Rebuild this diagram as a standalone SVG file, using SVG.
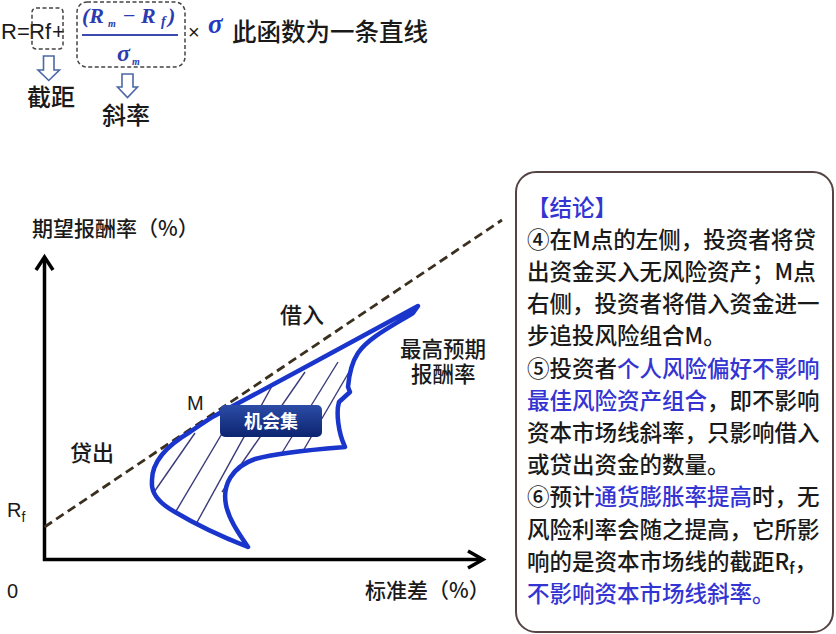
<svg xmlns="http://www.w3.org/2000/svg" width="836" height="634" viewBox="0 0 836 634">
<defs>
<style>
.cjk{font-family:"Noto Sans CJK SC","Noto Sans",sans-serif;font-weight:500;fill:#1a1a1a}
.lat{font-family:"Liberation Sans","Noto Sans",sans-serif;fill:#1a1a1a}
.math{font-family:"Liberation Serif","DejaVu Serif",serif;font-style:italic;font-weight:bold;fill:#2b3bb0}
.blue{fill:#3434d2}
.dbox{fill:none;stroke:#444;stroke-width:1.5;stroke-dasharray:4 2.5}
.harrow{fill:#fff;stroke:#4a67a8;stroke-width:1.6;stroke-linejoin:miter}
.hatch{stroke:#3a3a78;stroke-width:1.4}
.axis{fill:none;stroke:#000;stroke-width:3.5}
.txt{font-family:"Noto Sans CJK SC","Noto Sans",sans-serif;font-weight:500;font-size:22.5px;fill:#1a1a1a}
</style>
<linearGradient id="gbox" x1="0" y1="0" x2="0" y2="1">
<stop offset="0" stop-color="#2c4ca6"/>
<stop offset="1" stop-color="#0c2470"/>
</linearGradient>
<clipPath id="shapeClip">
<path d="M152,482 C151,462 168,445 190,432 C200,425 210,418 218,414 L300,370 L418,306 L413,313 C392,326 368,338 358,353 C352,362 349,375 348,387 L350,392 L339,402 C336,412 338,432 345,447 C320,449 280,452 255,459 C232,467 222,485 226,505 C229,520 240,535 248,547 C225,538 195,524 175,512 C157,502 151,492 152,482 Z"/>
</clipPath>
</defs>
<rect width="836" height="634" fill="#fff"/>

<g id="formula">
<text class="lat" x="1" y="39" font-size="22">R=</text>
<text class="lat" x="29" y="39" font-size="22">Rf</text>
<text class="lat" x="52" y="39" font-size="22">+</text>
<rect class="dbox" x="32" y="8" width="31" height="41" rx="4"/>
<rect class="dbox" x="77" y="2" width="108" height="65" rx="10"/>
<text class="math" font-size="22" y="23"><tspan x="82">(R</tspan><tspan x="108" y="27" font-size="10">m</tspan><tspan x="123" y="23" font-style="normal" font-weight="normal">−</tspan><tspan x="141" y="23">R</tspan><tspan x="161" y="26" font-size="14">f</tspan><tspan x="168" y="23">)</tspan></text>
<line x1="82" y1="35" x2="178" y2="35" stroke="#3a4ab0" stroke-width="2"/>
<text class="math" font-size="24" y="61"><tspan x="117">σ</tspan><tspan x="132" y="65" font-size="10">m</tspan></text>
<text class="lat" x="188" y="39" font-size="20">×</text>
<text class="math" x="208" y="33" font-size="27" style="fill:#2438c0">σ</text>
<text class="cjk" x="232" y="41" font-size="24.5">此函数为一条直线</text>
<text class="cjk" x="27" y="106" font-size="24">截距</text>
<text class="cjk" x="102" y="124" font-size="24">斜率</text>
</g>

<g id="connectors">
<path class="harrow" d="M43.5,56 H54 V70 H59.5 L48.75,80.5 L38,70 H43.5 Z"/>
<path class="harrow" d="M122,74 H133 V87 H137.5 L127.5,97.5 L117.5,87 H122 Z"/>
<path class="axis" d="M44.5,259 V559.5 H482"/>
<path d="M36,270 L44.5,257 L53,270" fill="none" stroke="#000" stroke-width="3.5" stroke-linejoin="miter"/>
<path d="M468,551 L483,559.5 L468,568" fill="none" stroke="#000" stroke-width="3.5" stroke-linejoin="miter"/>
<line x1="44.5" y1="527" x2="502" y2="220" stroke="#3b3020" stroke-width="2.8" stroke-dasharray="9 5"/>
</g>

<g id="axis-labels">
<text class="cjk" x="32" y="236" font-size="21">期望报酬率（%）</text>
<text class="cjk" x="365" y="598" font-size="21">标准差（%）</text>
<text class="lat" x="7" y="598" font-size="20">0</text>
<text class="lat" x="7" y="517" font-size="20">R<tspan font-size="14" dy="5">f</tspan></text>
<text class="cjk" x="280" y="323" font-size="22">借入</text>
<text class="cjk" x="70" y="461" font-size="22">贷出</text>
<text class="cjk" x="400" y="357" font-size="21.5">最高预期</text>
<text class="cjk" x="411" y="382" font-size="21.5">报酬率</text>
<text class="lat" x="187" y="410" font-size="20">M</text>
</g>

<g id="opportunity-set">
<g clip-path="url(#shapeClip)">
<line class="hatch" x1="152" y1="495" x2="195" y2="433"/>
<line class="hatch" x1="166" y1="528" x2="236" y2="410"/>
<line class="hatch" x1="190" y1="535" x2="272" y2="386"/>
<line class="hatch" x1="222" y1="492" x2="305" y2="372"/>
<line class="hatch" x1="280" y1="456" x2="338" y2="362"/>
<line class="hatch" x1="303" y1="451" x2="356" y2="360"/>
</g>
<path d="M152,482 C151,462 168,445 190,432 C200,425 210,418 218,414 L300,370 L418,306 L413,313 C392,326 368,338 358,353 C352,362 349,375 348,387 L350,392 L339,402 C336,412 338,432 345,447 C320,449 280,452 255,459 C232,467 222,485 226,505 C229,520 240,535 248,547 C225,538 195,524 175,512 C157,502 151,492 152,482 Z" fill="none" stroke="#1a35cc" stroke-width="4.5" stroke-linejoin="round"/>
</g>

<g id="label-opportunity">
<rect x="220" y="405" width="102" height="32" rx="5" fill="url(#gbox)"/>
<text x="271" y="428" text-anchor="middle" font-family="Noto Sans CJK SC,sans-serif" font-weight="bold" font-size="18" fill="#fff">机会集</text>
</g>

<g id="conclusion">
<rect x="516" y="172" width="317" height="460" rx="20" fill="#fff" stroke="#554444" stroke-width="2"/>
<text class="txt" x="527" y="215.5"><tspan class="blue">【结论】</tspan></text>
<text class="txt" x="527" y="247.7">④在M点的左侧，投资者将贷</text>
<text class="txt" x="527" y="279.9">出资金买入无风险资产；M点</text>
<text class="txt" x="527" y="312.1">右侧，投资者将借入资金进一</text>
<text class="txt" x="527" y="344.3">步追投风险组合M。</text>
<text class="txt" x="527" y="376.5">⑤投资者<tspan class="blue">个人风险偏好不影响</tspan></text>
<text class="txt" x="527" y="408.7"><tspan class="blue">最佳风险资产组合</tspan>，即不影响</text>
<text class="txt" x="527" y="440.9">资本市场线斜率，只影响借入</text>
<text class="txt" x="527" y="473.1">或贷出资金的数量。</text>
<text class="txt" x="527" y="505.3">⑥预计<tspan class="blue">通货膨胀率提高</tspan>时，无</text>
<text class="txt" x="527" y="537.5">风险利率会随之提高，它所影</text>
<text class="txt" x="527" y="569.7">响的是资本市场线的截距R<tspan font-size="15" dy="4">f</tspan><tspan dy="-4">，</tspan></text>
<text class="txt" x="527" y="601.9"><tspan class="blue">不影响资本市场线斜率。</tspan></text>
</g>
</svg>
